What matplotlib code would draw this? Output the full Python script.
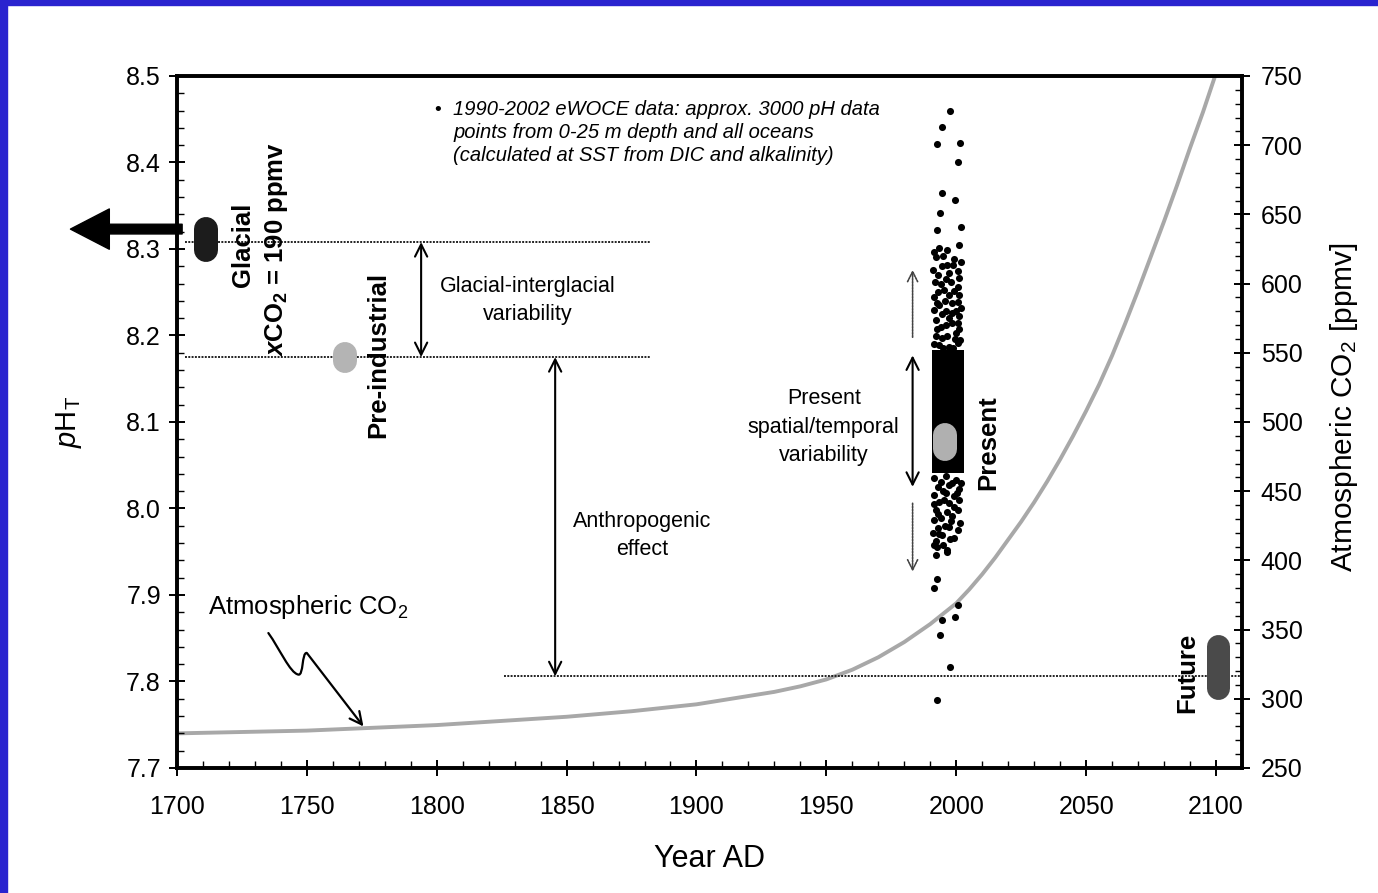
import matplotlib
matplotlib.use("Agg")
import matplotlib.pyplot as plt
from matplotlib.patches import FancyArrowPatch, Rectangle
from matplotlib.path import Path
from matplotlib.ticker import MultipleLocator

plt.rcParams['font.family'] = 'Liberation Sans'
plt.rcParams['mathtext.fontset'] = 'custom'
plt.rcParams['mathtext.rm'] = 'Liberation Sans'
plt.rcParams['mathtext.it'] = 'Liberation Sans:italic'
plt.rcParams['mathtext.bf'] = 'Liberation Sans:bold'
plt.rcParams['mathtext.sf'] = 'Liberation Sans:bold:italic'

# ======================
# DATA
# ======================
co2_years = [1700, 1725, 1750, 1775, 1800, 1825, 1850, 1875, 1900, 1910,
             1920, 1930, 1940, 1950, 1960, 1970, 1980, 1990, 2000, 2005,
             2010, 2015, 2020, 2025, 2030, 2035, 2040, 2045, 2050, 2055,
             2060, 2065, 2070, 2075, 2080, 2085, 2090, 2095, 2100]
co2_ppmv = [275, 276, 277, 279, 281, 284, 287, 291, 296, 299,
            302, 305, 309, 314, 321, 330, 341, 354, 369, 379,
            390, 402, 415, 428, 442, 457, 473, 490, 508, 527,
            548, 571, 595, 620, 645, 671, 698, 724, 752]

glacial_ph = 8.308
preind_ph = 8.175
future_ph = 7.806

# capsules: (year, pH low, pH high)
glacial_blob = (1711.0, 8.285, 8.337)
preind_blob = (1764.7, 8.157, 8.193)
present_blob = (1995.6, 8.055, 8.099)
future_blob = (2100.6, 7.779, 7.854)

present_core_years = [1990.6, 2002.9]
present_core_ph = [8.041, 8.183]

obs_years = [1997.5, 1994.7, 1992.7, 2001.5, 2000.7, 1994.7, 1999.4, 1993.8, 1992.7, 2001.7,
             1991.4, 1993.4, 1996.6, 2000.9, 1992.1, 2001.7, 1992.8, 1997.2, 2000.5, 1994.0,
             1997.9, 2001.1, 1995.3, 2000.5, 1991.4, 1997.2, 2001.1, 1993.4, 1998.5, 2000.5,
             1991.4, 1996.0, 1999.8, 1992.1, 1997.2, 2001.1, 1994.0, 1998.5, 2001.1, 1992.1,
             1996.6, 1999.8, 1993.4, 1997.2, 2000.5,
             1995.0, 1999.0, 1994.5, 1998.8, 1991.8, 1996.2, 1993.0, 1999.0, 1995.5, 1992.5,
             1994.5, 1998.5, 2000.8, 1992.5, 1996.0, 1999.5, 1994.5, 1991.4, 2001.5, 1995.0,
             1998.8, 2002.0, 1991.2, 1996.5,
             1991.4, 1996.0, 1999.8, 1992.8, 1997.2, 2001.1, 1991.4, 1996.0, 1999.2, 1993.4,
             1997.2, 2001.1, 1992.1, 1996.6, 2000.5, 1994.0, 1998.5, 1991.4, 1992.8, 1997.2,
             2000.5, 1994.7, 1999.2, 1992.1, 1996.6, 1992.1,
             1994.0, 1998.5, 2002.0, 1995.0, 2000.2, 1991.5, 1995.2, 1999.0, 1993.0, 1998.0,
             2001.5, 1995.5, 1993.5, 1997.5, 1990.9, 1995.0, 1992.5,
             1991.4, 1996.6, 1992.5, 1991.4, 2000.5, 1994.7, 1999.4, 1993.6, 1997.6, 1992.5]
obs_ph = [8.459, 8.441, 8.421, 8.422, 8.401, 8.365, 8.357, 8.342, 8.322, 8.326,
          8.297, 8.301, 8.299, 8.305, 8.291, 8.285, 8.270, 8.272, 8.274, 8.260,
          8.262, 8.266, 8.253, 8.256, 8.245, 8.247, 8.247, 8.235, 8.237, 8.239,
          8.229, 8.228, 8.228, 8.218, 8.220, 8.222, 8.210, 8.214, 8.208, 8.199,
          8.199, 8.203, 8.189, 8.187, 8.191,
          8.292, 8.289, 8.280, 8.281, 8.262, 8.265, 8.250, 8.251, 8.240, 8.238,
          8.225, 8.226, 8.215, 8.208, 8.212, 8.196, 8.197, 8.190, 8.195, 8.186,
          8.186, 8.232, 8.276, 8.282,
          8.035, 8.037, 8.033, 8.025, 8.027, 8.023, 8.016, 8.018, 8.014, 8.008,
          8.006, 8.010, 7.998, 7.996, 7.998, 7.989, 7.991, 7.987, 7.977, 7.979,
          7.975, 7.969, 7.966, 7.962, 7.952, 7.946,
          8.031, 8.030, 8.030, 8.020, 8.018, 8.005, 8.010, 8.002, 7.994, 7.985,
          7.983, 7.980, 7.970, 7.965, 7.972, 7.958, 7.955,
          7.958, 7.950, 7.919, 7.908, 7.888, 7.871, 7.874, 7.854, 7.817, 7.779]

# ======================
# FIGURE
# ======================
fig = plt.figure(figsize=(13.78, 8.93), dpi=100, facecolor='white')
ax = fig.add_axes([0.1284, 0.1400, 0.7729, 0.7749])
ax2 = ax.twinx()

ax.set_xlim(1700, 2110)
ax.set_ylim(7.7, 8.5)
ax2.set_ylim(250, 750)

# blue slide border
fig.add_artist(Rectangle((0, 0), 7 / 1378, 1, transform=fig.transFigure,
                         color='#2a24cf', zorder=0))
fig.add_artist(Rectangle((0, 1 - 5 / 893), 1, 5 / 893, transform=fig.transFigure,
                         color='#2a24cf', zorder=0))

# CO2 curve on the right axis, behind the pH stuff
ax2.plot(co2_years, co2_ppmv, color='#a8a8a8', lw=2.8, solid_capstyle='round',
         solid_joinstyle='round')
ax.set_zorder(ax2.get_zorder() + 1)
ax.patch.set_visible(False)

# dotted reference levels
dots = dict(color='#222222', lw=1.4, linestyle=(0, (1.0, 0.7)))
ax.plot([1703, 1882], [glacial_ph, glacial_ph], **dots)
ax.plot([1703, 1882], [preind_ph, preind_ph], **dots)
ax.plot([1826, 2110], [future_ph, future_ph], **dots)

# capsules drawn as fat lines with round caps
px_per_ph = ax.bbox.height / 0.8


def capsule(blob, width_px, color):
    x, lo, hi = blob
    r = (width_px / 2) / px_per_ph
    a, b = lo + r, hi - r
    if b < a:
        a = b = (lo + hi) / 2
    ax.plot([x, x], [a, b], color=color, lw=width_px * 0.72,
            solid_capstyle='round', zorder=4)


capsule(glacial_blob, 24, '#1c1c1c')
capsule(preind_blob, 24, '#b4b4b4')
capsule(future_blob, 23, '#4a4a4a')

# present-day data: dense core + scattered points
ax.fill_between(present_core_years, present_core_ph[0], present_core_ph[1],
                color='black', lw=0, zorder=3)
ax.scatter(obs_years, obs_ph, s=26, color='black', lw=0, zorder=3)
capsule(present_blob, 24, '#b0b0b0')

# thick arrow pointing left out of the frame
big = FancyArrowPatch((1702, 8.323), (1659, 8.323),
                      arrowstyle='simple,head_length=28,head_width=29,tail_width=7',
                      mutation_scale=1, color='black', clip_on=False,
                      shrinkA=0, shrinkB=0, zorder=5)
ax.add_patch(big)

# double arrows
arr = dict(arrowstyle='<->', lw=1.5, color='black', mutation_scale=22,
           shrinkA=0, shrinkB=0)
ax.annotate('', xy=(1794, glacial_ph), xytext=(1794, preind_ph), arrowprops=arr)
ax.annotate('', xy=(1845.6, preind_ph), xytext=(1845.6, future_ph), arrowprops=arr)
ax.annotate('', xy=(1983.2, 8.177), xytext=(1983.2, 8.025), arrowprops=arr)

darr = dict(arrowstyle='->', lw=1.2, color='#444444', linestyle=(0, (1.0, 0.8)),
            mutation_scale=18, shrinkA=0, shrinkB=0)
ax.annotate('', xy=(1983.2, 8.276), xytext=(1983.2, 8.198), arrowprops=darr)
ax.annotate('', xy=(1983.2, 7.927), xytext=(1983.2, 8.006), arrowprops=darr)

# squiggly pointer to the CO2 curve
verts = [(1735.2, 7.856), (1739.5, 7.838), (1743.5, 7.810), (1746.7, 7.808),
         (1748.8, 7.806), (1748.0, 7.834), (1750.0, 7.833),
         (1771.8, 7.748)]
codes = [Path.MOVETO, Path.CURVE4, Path.CURVE4, Path.CURVE4,
         Path.CURVE4, Path.CURVE4, Path.CURVE4, Path.LINETO]
squig = FancyArrowPatch(path=Path(verts, codes), arrowstyle='->',
                        mutation_scale=22, lw=1.6, color='black', zorder=5)
ax.add_patch(squig)

# texts
ax.text(1712.0, 7.886, 'Atmospheric CO$_2$', fontsize=18.5, ha='left', va='center')
ax.text(1834.9, 8.240, 'Glacial-interglacial\nvariability', fontsize=15.5,
        ha='center', va='center', linespacing=1.45)
ax.text(1879.2, 7.969, 'Anthropogenic\neffect', fontsize=15.5,
        ha='center', va='center', linespacing=1.45)
ax.text(1949.0, 8.094, 'Present\nspatial/temporal\nvariability', fontsize=15.5,
        ha='center', va='center', linespacing=1.45)
ax.text(1800.2, 8.460, '•', fontsize=14, ha='center', va='center')
ax.text(1806.4, 8.472, '1990-2002 eWOCE data: approx. 3000 pH data\n'
        'points from 0-25 m depth and all oceans\n'
        '(calculated at SST from DIC and alkalinity)',
        fontsize=14.5, style='italic', ha='left', va='top', linespacing=1.26)

bold = dict(fontsize=18.5, fontweight='bold', rotation=90, ha='center', va='center')
ax.text(1725.4, 8.305, 'Glacial', **bold)
ax.text(1738.5, 8.300, r'$\mathsf{x}\mathbf{CO}_\mathbf{2}$ = 190 ppmv', **bold)
ax.text(1777.5, 8.177, 'Pre-industrial', **bold)
ax.text(2012.5, 8.076, 'Present', **bold)
ax.text(2088.8, 7.810, 'Future', **bold)

# ======================
# AXES STYLE
# ======================
ax.xaxis.set_major_locator(MultipleLocator(50))
ax.xaxis.set_minor_locator(MultipleLocator(10))
ax.yaxis.set_major_locator(MultipleLocator(0.1))
ax.yaxis.set_minor_locator(MultipleLocator(0.02))
ax2.yaxis.set_major_locator(MultipleLocator(50))
ax2.yaxis.set_minor_locator(MultipleLocator(10))
ax.yaxis.set_major_formatter(plt.FormatStrFormatter('%.1f'))

ax.tick_params(which='major', direction='inout', length=11, width=1.4, labelsize=18)
ax.tick_params(which='minor', direction='in', length=5, width=1.0)
ax.tick_params(axis='x', which='major', pad=14)
ax.tick_params(axis='y', which='major', pad=6)
ax.tick_params(right=False, top=False, which='both')
ax2.tick_params(which='major', direction='inout', length=11, width=1.4,
                labelsize=18, pad=8)
ax2.tick_params(which='minor', direction='in', length=5, width=1.0)

for a in (ax, ax2):
    for s in a.spines.values():
        s.set_linewidth(2.6)

ax.set_xlabel('Year AD', fontsize=22, labelpad=18)
ax.set_ylabel(r'$p\mathrm{H}_\mathrm{T}$', fontsize=21, labelpad=30)
ax2.set_ylabel('Atmospheric CO$_2$ [ppmv]', fontsize=21.5)
ax2.yaxis.set_label_coords(1.081, 0.522)

fig.savefig('out.png', dpi=100, facecolor='white')
